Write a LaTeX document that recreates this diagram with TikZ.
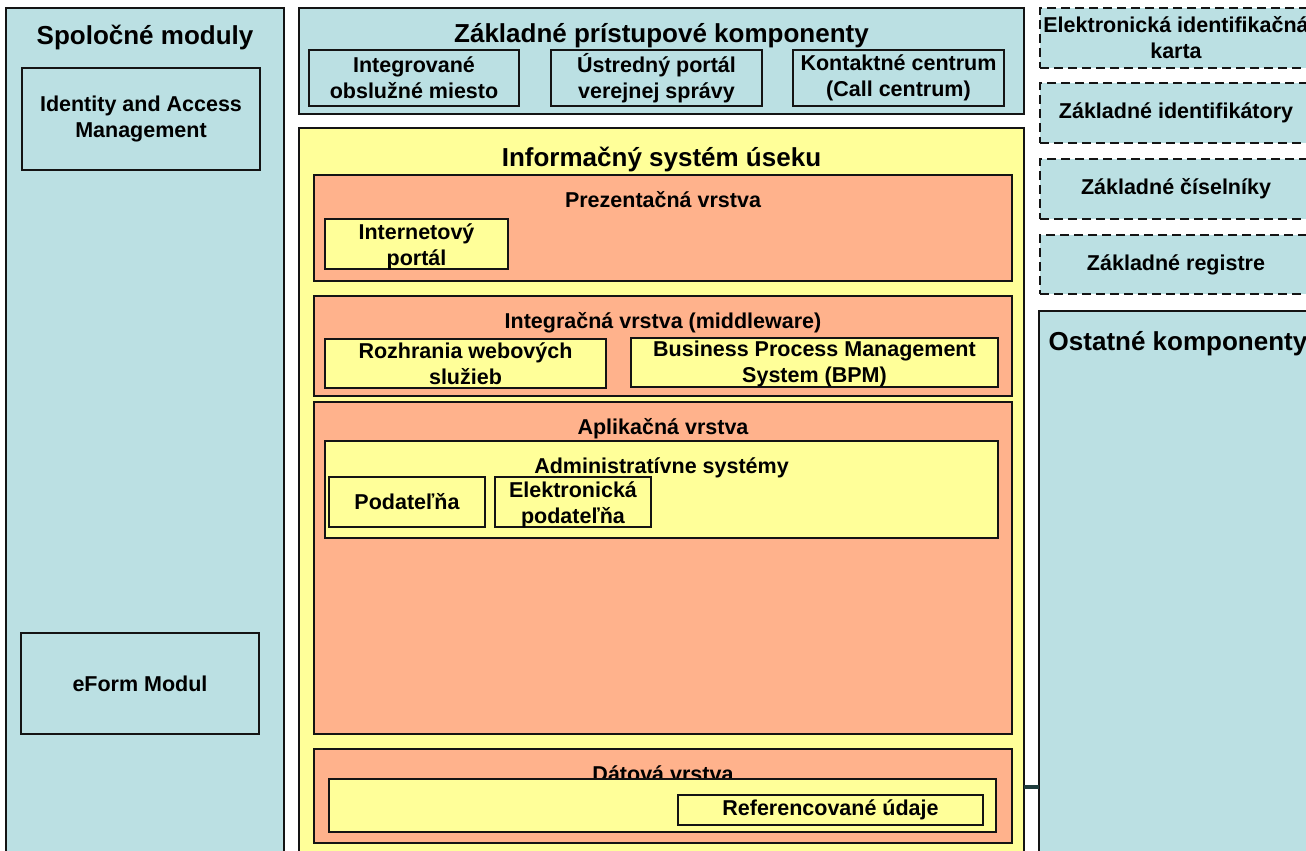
\documentclass[tikz,border=0pt]{standalone}
\usepackage{fontspec}
\setmainfont{Liberation Sans}
\definecolor{cblue}{RGB}{187,224,227}
\definecolor{cyel}{RGB}{255,255,153}
\definecolor{csal}{RGB}{255,178,140}
\definecolor{cline}{RGB}{20,20,20}
\definecolor{cstub}{RGB}{30,60,60}
\tikzset{
  box/.style={draw=cline, line width=1.6pt, inner sep=0pt, outer sep=0pt, align=center},
  bluebox/.style={box, fill=cblue},
  dashbox/.style={box, fill=cblue, dash pattern=on 9pt off 5pt},
  yelbox/.style={box, fill=cyel},
  salbox/.style={box, fill=csal},
  big/.style={font=\bfseries\fontsize{26}{31}\selectfont, inner sep=0pt, anchor=base},
  small/.style={font=\bfseries\fontsize{21.5}{26}\selectfont},
  ttl/.style={font=\bfseries\fontsize{21.5}{26}\selectfont, inner sep=0pt, anchor=base},
}
\begin{document}
\begin{tikzpicture}[x=1pt,y=-1pt]
\useasboundingbox (0,0) rectangle (1306,851);
\clip (0,0) rectangle (1306,851);
\fill[white] (0,0) rectangle (1306,851);
% Spolocne moduly
\node[bluebox, minimum width=278pt, minimum height=862pt] (spm) at (145,439) {};
\node[big] (spmt) at (145,45) {Spoločné moduly};
\node[bluebox, small, minimum width=238pt, minimum height=102pt] (iam) at (141,119) {Identity and Access\\Management};
\node[bluebox, small, minimum width=238pt, minimum height=101pt] (efm) at (140,683.5) {eForm Modul};
% Zakladne pristupove komponenty
\node[bluebox, minimum width=725pt, minimum height=106pt] (zpk) at (661.5,61) {};
\node[big] (zpkt) at (661.5,43) {Základné prístupové komponenty};
\node[bluebox, small, minimum width=210pt, minimum height=56pt] (iom) at (414,78) {Integrované\\obslužné miesto};
\node[bluebox, small, minimum width=211pt, minimum height=56pt] (upv) at (656.5,78) {Ústredný portál\\verejnej správy};
\node[bluebox, small, minimum width=211pt, minimum height=56pt] (kc) at (898.5,78) {Kontaktné centrum\\(Call centrum)};
% Right column
\node[dashbox, small, minimum width=272pt, minimum height=60pt] (eik) at (1176,38) {Elektronická identifikačná\\karta};
\node[dashbox, small, minimum width=272pt, minimum height=60pt] (zi) at (1176,113) {Základné identifikátory};
\node[dashbox, small, minimum width=272pt, minimum height=60pt] (zc) at (1176,189) {Základné číselníky};
\node[dashbox, small, minimum width=272pt, minimum height=59pt] (zr) at (1176,264.5) {Základné registre};
\node[bluebox, minimum width=273pt, minimum height=559pt] (ost) at (1175.5,590.5) {};
\node[big] (ostt) at (1178,350) {Ostatné komponenty};
% Informacny system useku
\node[yelbox, minimum width=725pt, minimum height=742pt] (isu) at (661.5,499) {};
\node[big] (isut) at (661.5,166) {Informačný systém úseku};
% Prezentacna vrstva
\node[salbox, minimum width=698pt, minimum height=106pt] (prez) at (663,228) {};
\node[ttl] (prezt) at (663,207) {Prezentačná vrstva};
\node[yelbox, minimum width=183pt, minimum height=50pt] (ip) at (416.5,244) {};
\node[small, align=center, inner sep=0pt] (ipt) at (416.5,247) {Internetový\\portál};
% Integracna vrstva
\node[salbox, minimum width=698pt, minimum height=100pt] (intg) at (663,346) {};
\node[ttl] (intgt) at (663,328) {Integračná vrstva (middleware)};
\node[yelbox, small, minimum width=281pt, minimum height=49pt] (rws) at (465.5,363.5) {Rozhrania webových\\služieb};
\node[yelbox, minimum width=367pt, minimum height=49pt] (bpm) at (814.5,362.5) {};
\node[small, align=center, inner sep=0pt] (bpmt) at (814.5,364) {Business Process Management\\System (BPM)};
% Aplikacna vrstva
\node[salbox, minimum width=698pt, minimum height=332pt] (apl) at (663,568) {};
\node[ttl] (aplt) at (663,434) {Aplikačná vrstva};
\node[yelbox, minimum width=673pt, minimum height=97pt] (adm) at (661.5,489.5) {};
\node[ttl] (admt) at (661.5,473) {Administratívne systémy};
\node[yelbox, small, minimum width=156pt, minimum height=50pt] (pod) at (407,502) {Podateľňa};
\node[yelbox, minimum width=156pt, minimum height=50pt] (epod) at (573,502) {};
\node[small, align=center, inner sep=0pt] (epodt) at (573,505) {Elektronická\\podateľňa};
% Datova vrstva
\node[salbox, minimum width=698pt, minimum height=94pt] (dat) at (663,796) {};
\node[ttl] (datt) at (663,781) {Dátová vrstva};
\node[yelbox, minimum width=667pt, minimum height=53pt] (dinner) at (662.5,805.5) {};
\node[yelbox, small, minimum width=305pt, minimum height=30pt] (ref) at (830.5,810) {Referencované údaje};
% stub between system and other components
\coordinate (stubY) at (0,787);
\draw[cstub, line width=4pt] (isu.east |- stubY) -- (ost.west |- stubY);
\end{tikzpicture}
\end{document}
